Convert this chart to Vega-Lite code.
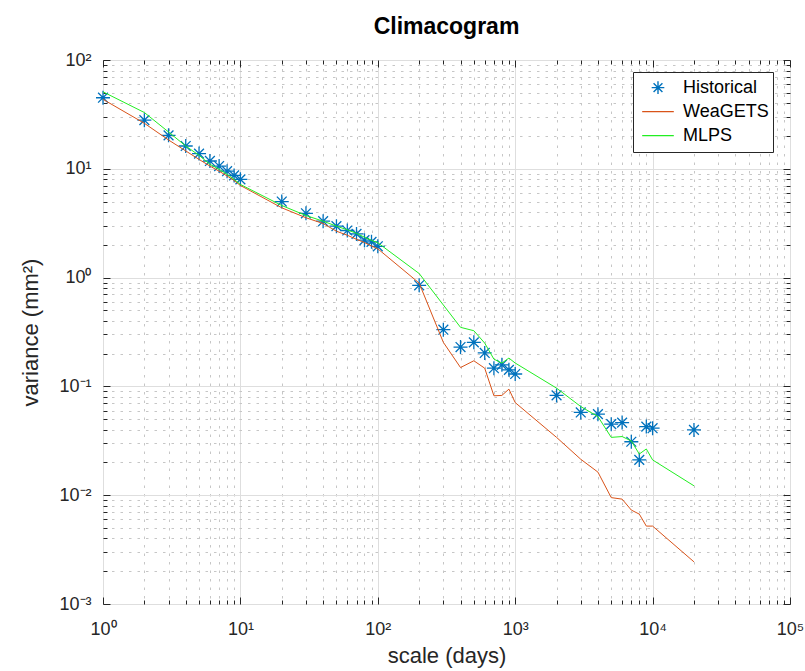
{
  "$schema": "https://vega.github.io/schema/vega-lite/v6.json",
  "autosize": "none",
  "width": 687,
  "height": 544,
  "padding": {"left": 103, "top": 60, "right": 15, "bottom": 67},
  "background": "white",
  "title": {"text": "Climacogram", "fontSize": 23, "fontWeight": "bold", "font": "Liberation Sans", "color": "black", "offset": 12, "anchor": "middle"},
  "config": {
    "font": "Liberation Sans",
    "view": {"stroke": "#262626", "strokeWidth": 1},
    "axis": {"labelFontSize": 18, "titleFontSize": 22, "titleFontWeight": "normal", "labelColor": "#262626", "titleColor": "#262626", "labelFont": "Liberation Sans", "titleFont": "Liberation Sans"}
  },
  "data": {"values": [
    {"scale": 1, "variance": 45, "series": "Historical"},
    {"scale": 2, "variance": 28, "series": "Historical"},
    {"scale": 3, "variance": 20.3, "series": "Historical"},
    {"scale": 4, "variance": 16.2, "series": "Historical"},
    {"scale": 5, "variance": 13.8, "series": "Historical"},
    {"scale": 6, "variance": 11.8, "series": "Historical"},
    {"scale": 7, "variance": 10.6, "series": "Historical"},
    {"scale": 8, "variance": 9.5, "series": "Historical"},
    {"scale": 9, "variance": 8.7, "series": "Historical"},
    {"scale": 10, "variance": 8.0, "series": "Historical"},
    {"scale": 20, "variance": 5.0, "series": "Historical"},
    {"scale": 30, "variance": 3.9, "series": "Historical"},
    {"scale": 40, "variance": 3.3, "series": "Historical"},
    {"scale": 50, "variance": 2.97, "series": "Historical"},
    {"scale": 60, "variance": 2.71, "series": "Historical"},
    {"scale": 70, "variance": 2.52, "series": "Historical"},
    {"scale": 80, "variance": 2.21, "series": "Historical"},
    {"scale": 90, "variance": 2.13, "series": "Historical"},
    {"scale": 100, "variance": 1.94, "series": "Historical"},
    {"scale": 200, "variance": 0.85, "series": "Historical"},
    {"scale": 300, "variance": 0.332, "series": "Historical"},
    {"scale": 400, "variance": 0.23, "series": "Historical"},
    {"scale": 500, "variance": 0.254, "series": "Historical"},
    {"scale": 600, "variance": 0.203, "series": "Historical"},
    {"scale": 700, "variance": 0.147, "series": "Historical"},
    {"scale": 800, "variance": 0.158, "series": "Historical"},
    {"scale": 900, "variance": 0.142, "series": "Historical"},
    {"scale": 1000, "variance": 0.13, "series": "Historical"},
    {"scale": 2000, "variance": 0.0826, "series": "Historical"},
    {"scale": 3000, "variance": 0.0576, "series": "Historical"},
    {"scale": 4000, "variance": 0.0556, "series": "Historical"},
    {"scale": 5000, "variance": 0.045, "series": "Historical"},
    {"scale": 6000, "variance": 0.0465, "series": "Historical"},
    {"scale": 7000, "variance": 0.031, "series": "Historical"},
    {"scale": 8000, "variance": 0.0211, "series": "Historical"},
    {"scale": 9000, "variance": 0.0427, "series": "Historical"},
    {"scale": 10000, "variance": 0.0413, "series": "Historical"},
    {"scale": 20000, "variance": 0.0398, "series": "Historical"},
    {"scale": 1, "variance": 43.5, "series": "WeaGETS"},
    {"scale": 2, "variance": 26.2, "series": "WeaGETS"},
    {"scale": 3, "variance": 18.4, "series": "WeaGETS"},
    {"scale": 4, "variance": 14.6, "series": "WeaGETS"},
    {"scale": 5, "variance": 12.2, "series": "WeaGETS"},
    {"scale": 6, "variance": 10.6, "series": "WeaGETS"},
    {"scale": 7, "variance": 9.5, "series": "WeaGETS"},
    {"scale": 8, "variance": 8.6, "series": "WeaGETS"},
    {"scale": 9, "variance": 7.8, "series": "WeaGETS"},
    {"scale": 10, "variance": 7.03, "series": "WeaGETS"},
    {"scale": 20, "variance": 4.38, "series": "WeaGETS"},
    {"scale": 30, "variance": 3.55, "series": "WeaGETS"},
    {"scale": 40, "variance": 3.14, "series": "WeaGETS"},
    {"scale": 50, "variance": 2.67, "series": "WeaGETS"},
    {"scale": 60, "variance": 2.45, "series": "WeaGETS"},
    {"scale": 70, "variance": 2.25, "series": "WeaGETS"},
    {"scale": 80, "variance": 2.1, "series": "WeaGETS"},
    {"scale": 90, "variance": 1.95, "series": "WeaGETS"},
    {"scale": 100, "variance": 1.84, "series": "WeaGETS"},
    {"scale": 200, "variance": 0.89, "series": "WeaGETS"},
    {"scale": 300, "variance": 0.254, "series": "WeaGETS"},
    {"scale": 400, "variance": 0.149, "series": "WeaGETS"},
    {"scale": 500, "variance": 0.172, "series": "WeaGETS"},
    {"scale": 600, "variance": 0.147, "series": "WeaGETS"},
    {"scale": 700, "variance": 0.082, "series": "WeaGETS"},
    {"scale": 800, "variance": 0.0826, "series": "WeaGETS"},
    {"scale": 900, "variance": 0.0944, "series": "WeaGETS"},
    {"scale": 1000, "variance": 0.071, "series": "WeaGETS"},
    {"scale": 2000, "variance": 0.034, "series": "WeaGETS"},
    {"scale": 3000, "variance": 0.0214, "series": "WeaGETS"},
    {"scale": 4000, "variance": 0.0163, "series": "WeaGETS"},
    {"scale": 5000, "variance": 0.0095, "series": "WeaGETS"},
    {"scale": 6000, "variance": 0.0092, "series": "WeaGETS"},
    {"scale": 7000, "variance": 0.0073, "series": "WeaGETS"},
    {"scale": 8000, "variance": 0.0067, "series": "WeaGETS"},
    {"scale": 9000, "variance": 0.0052, "series": "WeaGETS"},
    {"scale": 10000, "variance": 0.0052, "series": "WeaGETS"},
    {"scale": 20000, "variance": 0.00244, "series": "WeaGETS"},
    {"scale": 1, "variance": 51, "series": "MLPS"},
    {"scale": 2, "variance": 32.9, "series": "MLPS"},
    {"scale": 3, "variance": 21.8, "series": "MLPS"},
    {"scale": 4, "variance": 16.2, "series": "MLPS"},
    {"scale": 5, "variance": 13.3, "series": "MLPS"},
    {"scale": 6, "variance": 11.0, "series": "MLPS"},
    {"scale": 7, "variance": 9.9, "series": "MLPS"},
    {"scale": 8, "variance": 8.9, "series": "MLPS"},
    {"scale": 9, "variance": 8.0, "series": "MLPS"},
    {"scale": 10, "variance": 7.18, "series": "MLPS"},
    {"scale": 20, "variance": 4.6, "series": "MLPS"},
    {"scale": 30, "variance": 3.72, "series": "MLPS"},
    {"scale": 40, "variance": 3.3, "series": "MLPS"},
    {"scale": 50, "variance": 2.97, "series": "MLPS"},
    {"scale": 60, "variance": 2.75, "series": "MLPS"},
    {"scale": 70, "variance": 2.55, "series": "MLPS"},
    {"scale": 80, "variance": 2.35, "series": "MLPS"},
    {"scale": 90, "variance": 2.2, "series": "MLPS"},
    {"scale": 100, "variance": 2.09, "series": "MLPS"},
    {"scale": 200, "variance": 1.09, "series": "MLPS"},
    {"scale": 300, "variance": 0.56, "series": "MLPS"},
    {"scale": 400, "variance": 0.349, "series": "MLPS"},
    {"scale": 500, "variance": 0.325, "series": "MLPS"},
    {"scale": 600, "variance": 0.25, "series": "MLPS"},
    {"scale": 700, "variance": 0.178, "series": "MLPS"},
    {"scale": 800, "variance": 0.164, "series": "MLPS"},
    {"scale": 900, "variance": 0.182, "series": "MLPS"},
    {"scale": 1000, "variance": 0.164, "series": "MLPS"},
    {"scale": 2000, "variance": 0.0964, "series": "MLPS"},
    {"scale": 3000, "variance": 0.0653, "series": "MLPS"},
    {"scale": 4000, "variance": 0.0528, "series": "MLPS"},
    {"scale": 5000, "variance": 0.034, "series": "MLPS"},
    {"scale": 6000, "variance": 0.0346, "series": "MLPS"},
    {"scale": 7000, "variance": 0.0315, "series": "MLPS"},
    {"scale": 8000, "variance": 0.0239, "series": "MLPS"},
    {"scale": 9000, "variance": 0.0266, "series": "MLPS"},
    {"scale": 10000, "variance": 0.0211, "series": "MLPS"},
    {"scale": 20000, "variance": 0.0122, "series": "MLPS"}
  ]},
  "resolve": {"axis": {"x": "independent", "y": "independent"}},
  "layer": [
    {
      "transform": [{"filter": "datum.series === 'Historical'"}],
      "mark": {"type": "point", "filled": false, "size": 1225, "strokeWidth": 1.3, "opacity": 1},
      "encoding": {
        "x": {"field": "scale", "type": "quantitative",
          "scale": {"type": "log", "domain": [1, 100000], "nice": false},
          "axis": {"orient": "bottom", "title": "scale (days)", "titlePadding": 7, "labelPadding": 16, "ticks": false, "domain": false,
            "values": [1,2,3,4,5,6,7,8,9,10,20,30,40,50,60,70,80,90,100,200,300,400,500,600,700,800,900,1000,2000,3000,4000,5000,6000,7000,8000,9000,10000,20000,30000,40000,50000,60000,70000,80000,90000,100000],
            "labelExpr": "datum.value == 1 ? '10⁰' : datum.value == 10 ? '10¹' : datum.value == 100 ? '10²' : datum.value == 1000 ? '10³' : datum.value == 10000 ? '10⁴' : datum.value == 100000 ? '10⁵' : ''",
            "labelFlush": false, "labelOverlap": false, "labelBound": false,
            "grid": true,
            "gridColor": {"condition": {"test": "abs(log(datum.value)/LN10 - round(log(datum.value)/LN10)) < 0.001", "value": "#dedede"}, "value": "#c6c6c6"},
            "gridDash": {"condition": {"test": "abs(log(datum.value)/LN10 - round(log(datum.value)/LN10)) < 0.001", "value": []}, "value": [2.5, 6]}
          }},
        "y": {"field": "variance", "type": "quantitative",
          "scale": {"type": "log", "domain": [0.001, 100], "nice": false},
          "axis": {"orient": "left", "title": "variance (mm²)", "titlePadding": 16, "labelPadding": 12, "ticks": false, "domain": false,
            "values": [0.001,0.002,0.003,0.004,0.005,0.006,0.007,0.008,0.009,0.01,0.02,0.03,0.04,0.05,0.06,0.07,0.08,0.09,0.1,0.2,0.3,0.4,0.5,0.6,0.7,0.8,0.9,1,2,3,4,5,6,7,8,9,10,20,30,40,50,60,70,80,90,100],
            "labelExpr": "datum.value == 0.001 ? '10⁻³' : datum.value == 0.01 ? '10⁻²' : datum.value == 0.1 ? '10⁻¹' : datum.value == 1 ? '10⁰' : datum.value == 10 ? '10¹' : datum.value == 100 ? '10²' : ''",
            "labelFlush": false, "labelOverlap": false, "labelBound": false,
            "grid": true,
            "gridColor": {"condition": {"test": "abs(log(datum.value)/LN10 - round(log(datum.value)/LN10)) < 0.001", "value": "#dedede"}, "value": "#c6c6c6"},
            "gridDash": {"condition": {"test": "abs(log(datum.value)/LN10 - round(log(datum.value)/LN10)) < 0.001", "value": []}, "value": [2.5, 6]}
          }},
        "color": {"field": "series", "type": "nominal",
          "scale": {"domain": ["Historical", "WeaGETS", "MLPS"], "range": ["#0072BD", "#D95319", "#22EE22"]},
          "legend": {"title": null, "orient": "none", "legendX": 530, "legendY": 12, "fillColor": "white", "strokeColor": "#262626", "padding": 4, "symbolOffset": 4, "labelFontSize": 18, "labelColor": "black", "symbolSize": 1000, "symbolStrokeWidth": 1.4, "labelOffset": 8, "rowPadding": 0, "clipHeight": 23.3, "symbolFillColor": "transparent", "symbolOpacity": 1}},
        "shape": {"field": "series", "type": "nominal",
          "scale": {"domain": ["Historical", "WeaGETS", "MLPS"], "range": ["M-0.4,0L0.4,0M0,-0.4L0,0.4M-0.28,-0.28L0.28,0.28M-0.28,0.28L0.28,-0.28", "stroke", "stroke"]},
          "legend": {"title": null, "orient": "none", "legendX": 530, "legendY": 12, "fillColor": "white", "strokeColor": "#262626", "padding": 4, "symbolOffset": 4, "labelFontSize": 18, "labelColor": "black", "symbolSize": 1000, "symbolStrokeWidth": 1.4, "labelOffset": 8, "rowPadding": 0, "clipHeight": 23.3, "symbolFillColor": "transparent", "symbolOpacity": 1}}
      }
    },
    {
      "transform": [{"filter": "datum.series === 'WeaGETS'"}],
      "mark": {"type": "line", "strokeWidth": 1},
      "encoding": {
        "x": {"field": "scale", "type": "quantitative",
          "scale": {"type": "log", "domain": [1, 100000], "nice": false},
          "axis": {"orient": "bottom", "title": null, "labels": false, "grid": false, "domain": false, "tickColor": "#262626",
            "values": [1,2,3,4,5,6,7,8,9,10,20,30,40,50,60,70,80,90,100,200,300,400,500,600,700,800,900,1000,2000,3000,4000,5000,6000,7000,8000,9000,10000,20000,30000,40000,50000,60000,70000,80000,90000,100000],
            "tickSize": {"condition": {"test": "abs(log(datum.value)/LN10 - round(log(datum.value)/LN10)) < 0.001", "value": -7}, "value": -4}
          }},
        "y": {"field": "variance", "type": "quantitative",
          "scale": {"type": "log", "domain": [0.001, 100], "nice": false},
          "axis": {"orient": "left", "title": null, "labels": false, "grid": false, "domain": false, "tickColor": "#262626",
            "values": [0.001,0.002,0.003,0.004,0.005,0.006,0.007,0.008,0.009,0.01,0.02,0.03,0.04,0.05,0.06,0.07,0.08,0.09,0.1,0.2,0.3,0.4,0.5,0.6,0.7,0.8,0.9,1,2,3,4,5,6,7,8,9,10,20,30,40,50,60,70,80,90,100],
            "tickSize": {"condition": {"test": "abs(log(datum.value)/LN10 - round(log(datum.value)/LN10)) < 0.001", "value": -7}, "value": -4}
          }},
        "color": {"field": "series", "type": "nominal"}
      }
    },
    {
      "transform": [{"filter": "datum.series === 'MLPS'"}],
      "mark": {"type": "line", "strokeWidth": 1},
      "encoding": {
        "x": {"field": "scale", "type": "quantitative",
          "scale": {"type": "log", "domain": [1, 100000], "nice": false},
          "axis": {"orient": "top", "title": null, "labels": false, "grid": false, "domain": false, "tickColor": "#262626",
            "values": [1,2,3,4,5,6,7,8,9,10,20,30,40,50,60,70,80,90,100,200,300,400,500,600,700,800,900,1000,2000,3000,4000,5000,6000,7000,8000,9000,10000,20000,30000,40000,50000,60000,70000,80000,90000,100000],
            "tickSize": {"condition": {"test": "abs(log(datum.value)/LN10 - round(log(datum.value)/LN10)) < 0.001", "value": -7}, "value": -4}
          }},
        "y": {"field": "variance", "type": "quantitative",
          "scale": {"type": "log", "domain": [0.001, 100], "nice": false},
          "axis": {"orient": "right", "title": null, "labels": false, "grid": false, "domain": false, "tickColor": "#262626",
            "values": [0.001,0.002,0.003,0.004,0.005,0.006,0.007,0.008,0.009,0.01,0.02,0.03,0.04,0.05,0.06,0.07,0.08,0.09,0.1,0.2,0.3,0.4,0.5,0.6,0.7,0.8,0.9,1,2,3,4,5,6,7,8,9,10,20,30,40,50,60,70,80,90,100],
            "tickSize": {"condition": {"test": "abs(log(datum.value)/LN10 - round(log(datum.value)/LN10)) < 0.001", "value": -7}, "value": -4}
          }},
        "color": {"field": "series", "type": "nominal"}
      }
    }
  ]
}
